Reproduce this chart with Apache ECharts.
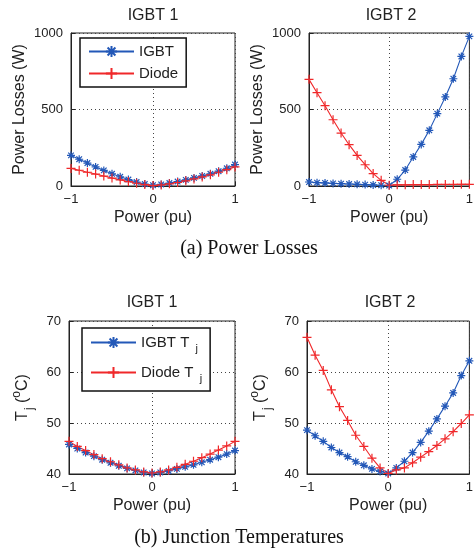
<!DOCTYPE html>
<html>
<head>
<meta charset="utf-8">
<script src="https://cdn.jsdelivr.net/npm/echarts@6/dist/echarts.min.js"></script>
<style>html,body{margin:0;padding:0;background:#fff}#c{width:476px;height:550px}</style>
</head>
<body>
<div id="c"></div>
<script>
const powerPu = [-1,-0.9,-0.8,-0.7,-0.6,-0.5,-0.4,-0.3,-0.2,-0.1,0,0.1,0.2,0.3,0.4,0.5,0.6,0.7,0.8,0.9,1];
// (a) Power losses (W)
const igbt1LossIgbt  = [200,175,150,125,102,80,60,42,26,13,5,10,19,29,40,53,66,80,97,116,140];
const igbt1LossDiode = [115,103,90,78,65,52,40,29,18,9,3,7,14,23,34,46,59,73,90,107,125];
const igbt2LossIgbt  = [26,22,20,17,15,13,11,9,7,5,3,44,104,190,272,364,473,582,701,847,978];
const igbt2LossDiode = [697,610,525,433,346,270,200,139,81,37,5,8,8,9,9,9,10,10,10,11,11];
// (b) Junction temperatures (°C)
const igbt1TjIgbt  = [45.8,45.0,44.2,43.5,42.8,42.2,41.6,41.1,40.7,40.3,40.1,40.3,40.6,41.0,41.4,41.8,42.3,42.8,43.3,43.9,44.6];
const igbt1TjDiode = [46.4,45.4,44.6,43.8,43.0,42.4,41.8,41.2,40.8,40.4,40.2,40.4,40.8,41.3,41.9,42.5,43.2,43.9,44.7,45.5,46.4];
const igbt2TjIgbt  = [48.6,47.5,46.4,45.2,44.2,43.4,42.4,41.7,41.0,40.5,40.1,41.2,42.5,44.2,46.2,48.4,50.8,53.3,55.9,59.3,62.2];
const igbt2TjDiode = [66.8,63.3,60.3,56.5,53.2,50.5,47.6,45.4,43.1,41.2,40.1,40.8,41.2,42.2,43.3,44.4,45.6,46.9,48.3,49.9,51.6];
const titles = ['IGBT 1','IGBT 2','IGBT 1','IGBT 2'];
const captions = ['(a) Power Losses','(b) Junction Temperatures'];

const BLUE = '#2358b8', RED = '#f0282a';
const FONT = '"Liberation Sans", Arial, sans-serif';
const SERIF = '"Liberation Serif", "Times New Roman", serif';
const STAR = 'path://M0,5L10,5M5,0L5,10M1.5,1.5L8.5,8.5M1.5,8.5L8.5,1.5';
const PLUS = 'path://M0,5L10,5M5,0L5,10';

const grids = [
  {left:71, top:33, width:164, height:153},
  {left:309, top:33, width:164, height:153},
  {left:69, top:321, width:166, height:153},
  {left:307, top:321, width:166, height:153}
];
const pair = ys => powerPu.map((x,i)=>[x, ys[i]]);
const rich = {
  sub:{fontSize:12, fontFamily:FONT, color:'#222', padding:[15,0,0,1]},
  sup:{fontSize:12, fontFamily:FONT, color:'#222', padding:[0,0,11,0]}
};
function xAx(i){
  return {gridIndex:i, type:'value', min:-1, max:1, interval:1,
    name:'Power (pu)', nameLocation:'middle', nameGap:24,
    nameTextStyle:{fontFamily:FONT, fontSize:16, color:'#222'},
    axisLine:{onZero:false, lineStyle:{color:'#222', width:1}},
    axisTick:{inside:true, length:4, lineStyle:{color:'#222'}},
    axisLabel:{fontFamily:FONT, fontSize:13, color:'#222', margin:7,
      formatter:v=> v<0 ? '\u2212'+Math.abs(v) : String(v)},
    splitLine:{show:true, lineStyle:{type:[1,3], color:'#444', width:1}}};
}
function yAx(i, loss){
  return {gridIndex:i, type:'value', min:loss?0:40, max:loss?1000:70, interval:loss?500:10,
    name: loss ? 'Power Losses (W)' : 'T{sub|j} ({sup|o}C)',
    nameLocation:'middle', nameGap: loss?43:33, nameRotate:90,
    nameTextStyle:{fontFamily:FONT, fontSize:16, color:'#222', rich},
    axisLine:{show:true, onZero:false, lineStyle:{color:'#222', width:1}},
    axisTick:{show:true, inside:true, length:4, lineStyle:{color:'#222'}},
    axisLabel:{fontFamily:FONT, fontSize:13, color:'#222', margin:8, formatter:v=>String(v)},
    splitLine:{show:true, lineStyle:{type:[1,3], color:'#444', width:1}}};
}
function ser(name, gi, ys, color, sym, size){
  return {name, type:'line', xAxisIndex:gi, yAxisIndex:gi, data:pair(ys),
    symbol:sym, symbolSize:size, showSymbol:true,
    lineStyle:{color, width:1.1}, itemStyle:{color, borderColor:color, borderWidth:1.2},
    emphasis:{disabled:true}, animation:false, z:3};
}
const series = [
  ser('IGBT',0,igbt1LossIgbt,BLUE,STAR,8),
  ser('Diode',0,igbt1LossDiode,RED,PLUS,9),
  ser('IGBT',1,igbt2LossIgbt,BLUE,STAR,8),
  ser('Diode',1,igbt2LossDiode,RED,PLUS,9),
  ser('IGBT Tj',2,igbt1TjIgbt,BLUE,STAR,8),
  ser('Diode Tj',2,igbt1TjDiode,RED,PLUS,9),
  ser('IGBT Tj',3,igbt2TjIgbt,BLUE,STAR,8),
  ser('Diode Tj',3,igbt2TjDiode,RED,PLUS,9)
];
const titlePos = [[153,16],[391,16],[152,303],[390,303]];
const graphic = titles.map((t,i)=>({type:'text', x:titlePos[i][0], y:titlePos[i][1],
  style:{text:t, fontFamily:FONT, fontSize:16, fill:'#222', textAlign:'center', textVerticalAlign:'middle'}}));
graphic.push({type:'text', x:249, y:249, style:{text:captions[0], fontFamily:SERIF, fontSize:20, fill:'#111', textAlign:'center', textVerticalAlign:'middle'}});
graphic.push({type:'text', x:239, y:538, style:{text:captions[1], fontFamily:SERIF, fontSize:20, fill:'#111', textAlign:'center', textVerticalAlign:'middle'}});

const legendBase = {orient:'vertical', itemWidth:45, itemHeight:14, backgroundColor:'#fff',
  borderColor:'#111', borderWidth:1.5, borderRadius:0,
  textStyle:{fontFamily:FONT, fontSize:15, color:'#222', rich:{sub:{fontSize:11,fontFamily:FONT,color:'#222',padding:[12,0,0,2]}}},
  selectedMode:false, z:10};
const chart = echarts.init(document.getElementById('c'), null, {renderer:'canvas'});
chart.setOption({
  animation:false,
  grid: grids.map(g=>Object.assign({show:true, borderColor:'#222', borderWidth:1, backgroundColor:'transparent', containLabel:false}, g)),
  xAxis:[0,1,2,3].map(xAx),
  yAxis:[0,1,2,3].map(i=>yAx(i, i<2)),
  legend:[
    Object.assign({}, legendBase, {data:['IGBT','Diode'], left:80, top:38, padding:[6,8], itemGap:7}),
    Object.assign({}, legendBase, {data:['IGBT Tj','Diode Tj'], left:82, top:328, padding:[7,8], itemGap:11,
      formatter: n => n.replace(' Tj',' T {sub|j}')})
  ],
  graphic,
  series
});
</script>
</body>
</html>
